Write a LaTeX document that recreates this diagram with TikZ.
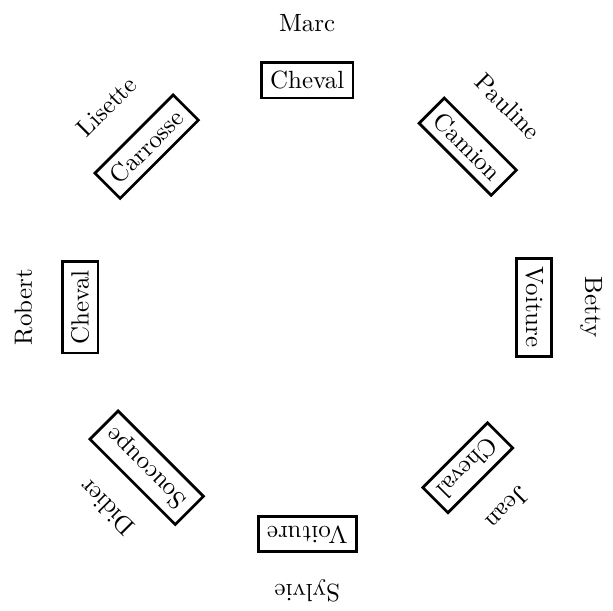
\documentclass[tikz,border=0pt]{standalone}
\usetikzlibrary{positioning}
\tikzset{
  guest/.style={inner sep=1pt},
  gift/.style={draw,line width=1.1pt,inner sep=3.5pt},
}
\begin{document}
\begin{tikzpicture}
  \useasboundingbox (-4.33,-4.28) rectangle (4.31,4.33);
  % guests on the outer ring, their presents on the inner one
  \foreach \who/\what [count=\i from 0] in {Marc/Cheval,Pauline/Camion,Betty/Voiture,Jean/Cheval,Sylvie/Voiture,Didier/Soucoupe,Robert/Cheval,Lisette/Carrosse}{
    \pgfmathsetmacro\ang{90-45*\i}
    \node[guest,rotate=\ang-90] (g\i) at (\ang:4cm) {\who};
    \node[gift,rotate=\ang-90] (p\i) at (\ang:3.2cm) {\what};
  }
\end{tikzpicture}
\end{document}
